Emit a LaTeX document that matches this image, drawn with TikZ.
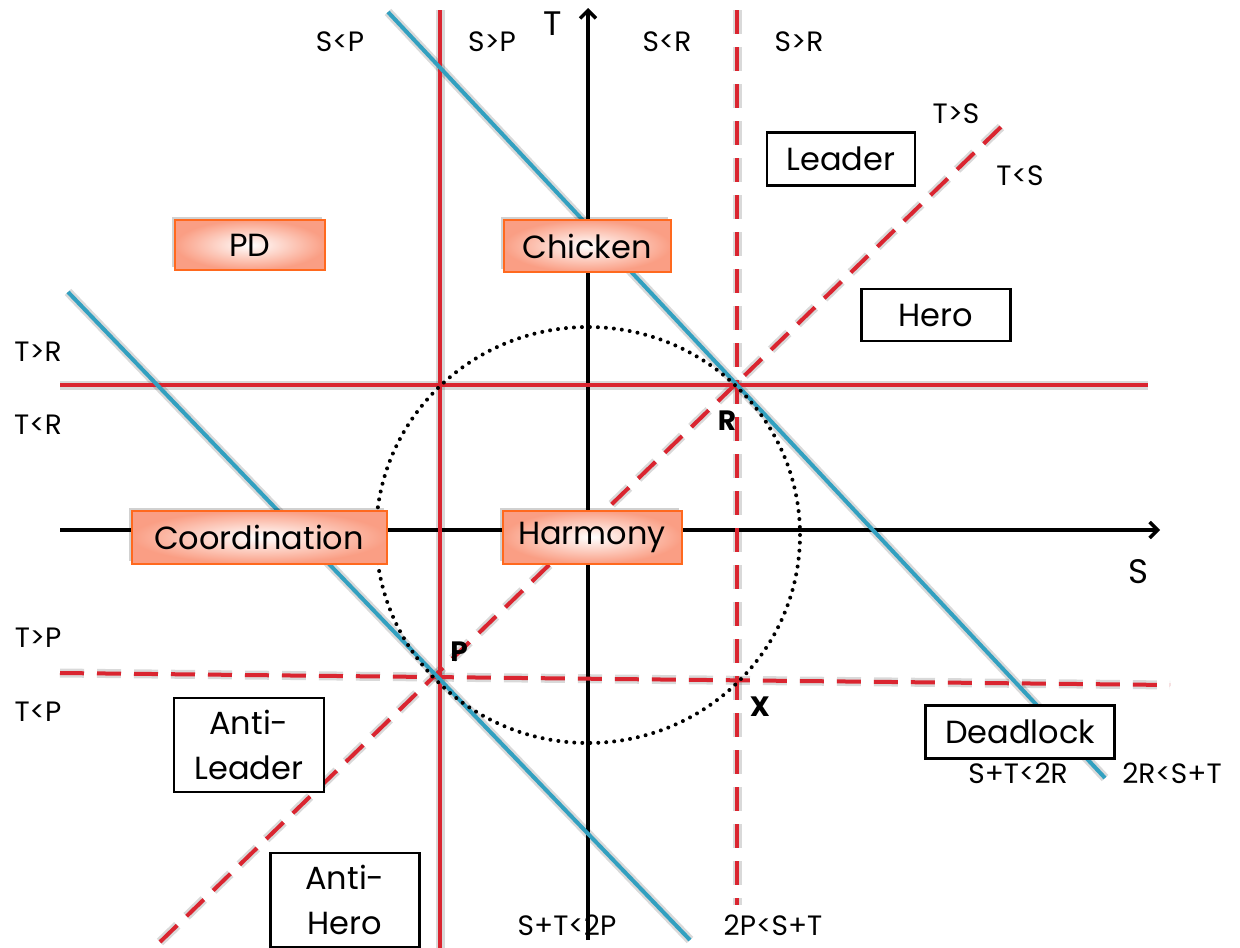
\documentclass[tikz,border=0pt]{standalone}
\usepackage{fontspec}
\setmainfont{Poppins}
\usetikzlibrary{arrows.meta,shadows}
\definecolor{linered}{RGB}{218,37,48}
\definecolor{lineblue}{RGB}{50,160,192}
\definecolor{boxorange}{RGB}{255,105,30}
\definecolor{boxsalmon}{RGB}{250,158,132}
\begin{document}
\begin{tikzpicture}[x=1pt,y=-1pt,
  axis/.style={line width=3.5pt,black,-{Straight Barb[length=8pt,width=16pt,line width=3.5pt]}},
  redsolid/.style={line width=4pt,linered},
  reddash/.style={line width=4pt,linered,dash pattern=on 24pt off 13pt},
  blueline/.style={line width=4pt,lineblue},
  haze/.style={line width=9pt,black,opacity=0.15},
  gamebox/.style={draw=boxorange,line width=2pt,inner color=white,outer color=boxsalmon,
    font=\fontsize{32}{36}\selectfont,
    drop shadow={shadow xshift=-3pt,shadow yshift=3pt,opacity=0.18,fill=black}},
  plainbox/.style={draw=black,line width=2.5pt,fill=white,font=\fontsize{32}{45}\selectfont,align=center},
  lbl/.style={font=\fontsize{28}{30}\selectfont},
  pt/.style={font=\fontsize{28}{30}\selectfont\bfseries}]
\useasboundingbox (0,0) rectangle (1240,948);

% end points of the axes and boundary lines
\coordinate (tbot) at (588,940);  \coordinate (ttop) at (588,8);
\coordinate (sleft) at (60,530);  \coordinate (sright) at (1160,530);
\coordinate (pvtop) at (440,10);  \coordinate (pvbot) at (440,948);
\coordinate (rhl) at (60,385);    \coordinate (rhr) at (1148,385);
\coordinate (rvtop) at (737,10);  \coordinate (rvbot) at (737,905);
\coordinate (phl) at (60,673);    \coordinate (phr) at (1170,685);
\coordinate (dgl) at (160,942);   \coordinate (dgr) at (1003,125);
\coordinate (b1t) at (388,12);    \coordinate (b1b) at (1105,778);
\coordinate (b2t) at (68,292);    \coordinate (b2b) at (690,940);
\coordinate (cc) at (588,535);

% soft shadows under the coloured lines
\begin{scope}[shift={(0,-2)}]
\draw[haze] (rhl) -- (rhr);
\draw[haze] (pvtop) -- (pvbot);
\draw[haze,dash pattern=on 24pt off 13pt] (dgl) -- (dgr);
\draw[haze,dash pattern=on 24pt off 13pt] (phl) -- (phr);
\draw[haze,dash pattern=on 24pt off 13pt] (rvtop) -- (rvbot);
\draw[haze] (b1t) -- (b1b);
\draw[haze] (b2t) -- (b2b);
\end{scope}

% axes
\draw[axis] (tbot) -- (ttop);
\draw[axis] (sleft) -- (sright);

% payoff boundaries
\draw[redsolid] (pvtop) -- (pvbot);
\draw[redsolid] (rhl) -- (rhr);
\draw[reddash] (rvtop) -- (rvbot);
\draw[reddash] (phl) -- (phr);
\draw[reddash] (dgl) -- (dgr);
\draw[blueline] (b1t) -- (b1b);
\draw[blueline] (b2t) -- (b2b);

% circle of unit payoffs
\draw[black,line width=4pt,dash pattern=on 0pt off 8pt,line cap=round] (cc) circle[x radius=212pt,y radius=208pt];

% axis names
\node[font=\fontsize{34}{36}\selectfont] (tname) at (553,24) {T};
\node[font=\fontsize{34}{36}\selectfont] (sname) at (1138,572) {S};

% region labels
\node[lbl] (sltp) at (340,42) {S<P};
\node[lbl] (sgtp) at (492,42) {S>P};
\node[lbl] (sltr) at (667,42) {S<R};
\node[lbl] (sgtr) at (799,42) {S>R};
\node[lbl] (tgts) at (956,114) {T>S};
\node[lbl] (tlts) at (1020,176) {T<S};
\node[lbl] (tgtr) at (38,352) {T>R};
\node[lbl] (tltr) at (38,425) {T<R};
\node[lbl] (tgtp) at (38,638) {T>P};
\node[lbl] (tltp) at (38,712) {T<P};
\node[lbl] (stp1) at (567,925) {S+T<2P};
\node[lbl] (stp2) at (773,925) {2P<S+T};
\node[lbl] (str1) at (1018,773) {S+T<2R};
\node[lbl] (str2) at (1172,773) {2R<S+T};

% named points
\node[pt] (ptr) at (727,421) {R};
\node[pt] (ptp) at (459,652) {P};
\node[pt] (ptx) at (760,707) {X};

% game regions
\node[gamebox,minimum width=150pt,minimum height=50pt] (pd) at (250,245) {PD};
\node[gamebox,minimum width=167pt,minimum height=52pt] (chicken) at (587,246) {Chicken};
\node[gamebox,minimum width=255pt,minimum height=53pt] (coord) at (259,537) {Coordination};
\node[gamebox,minimum width=179pt,minimum height=53pt] (harmony) at (592,537) {Harmony};

\node[plainbox,minimum width=148pt,minimum height=53pt] (leader) at (841,159) {Leader};
\node[plainbox,minimum width=149pt,minimum height=52pt] (hero) at (936,315) {Hero};
\node[plainbox,minimum width=189pt,minimum height=53pt] (deadlock) at (1020,732) {Deadlock};
\node[plainbox,minimum width=150pt,minimum height=94pt,inner sep=1pt] (antileader) at (249,745) {Anti-\\Leader};
\node[plainbox,minimum width=149pt,minimum height=94pt,inner sep=1pt] (antihero) at (345,900) {Anti-\\Hero};
\end{tikzpicture}
\end{document}
